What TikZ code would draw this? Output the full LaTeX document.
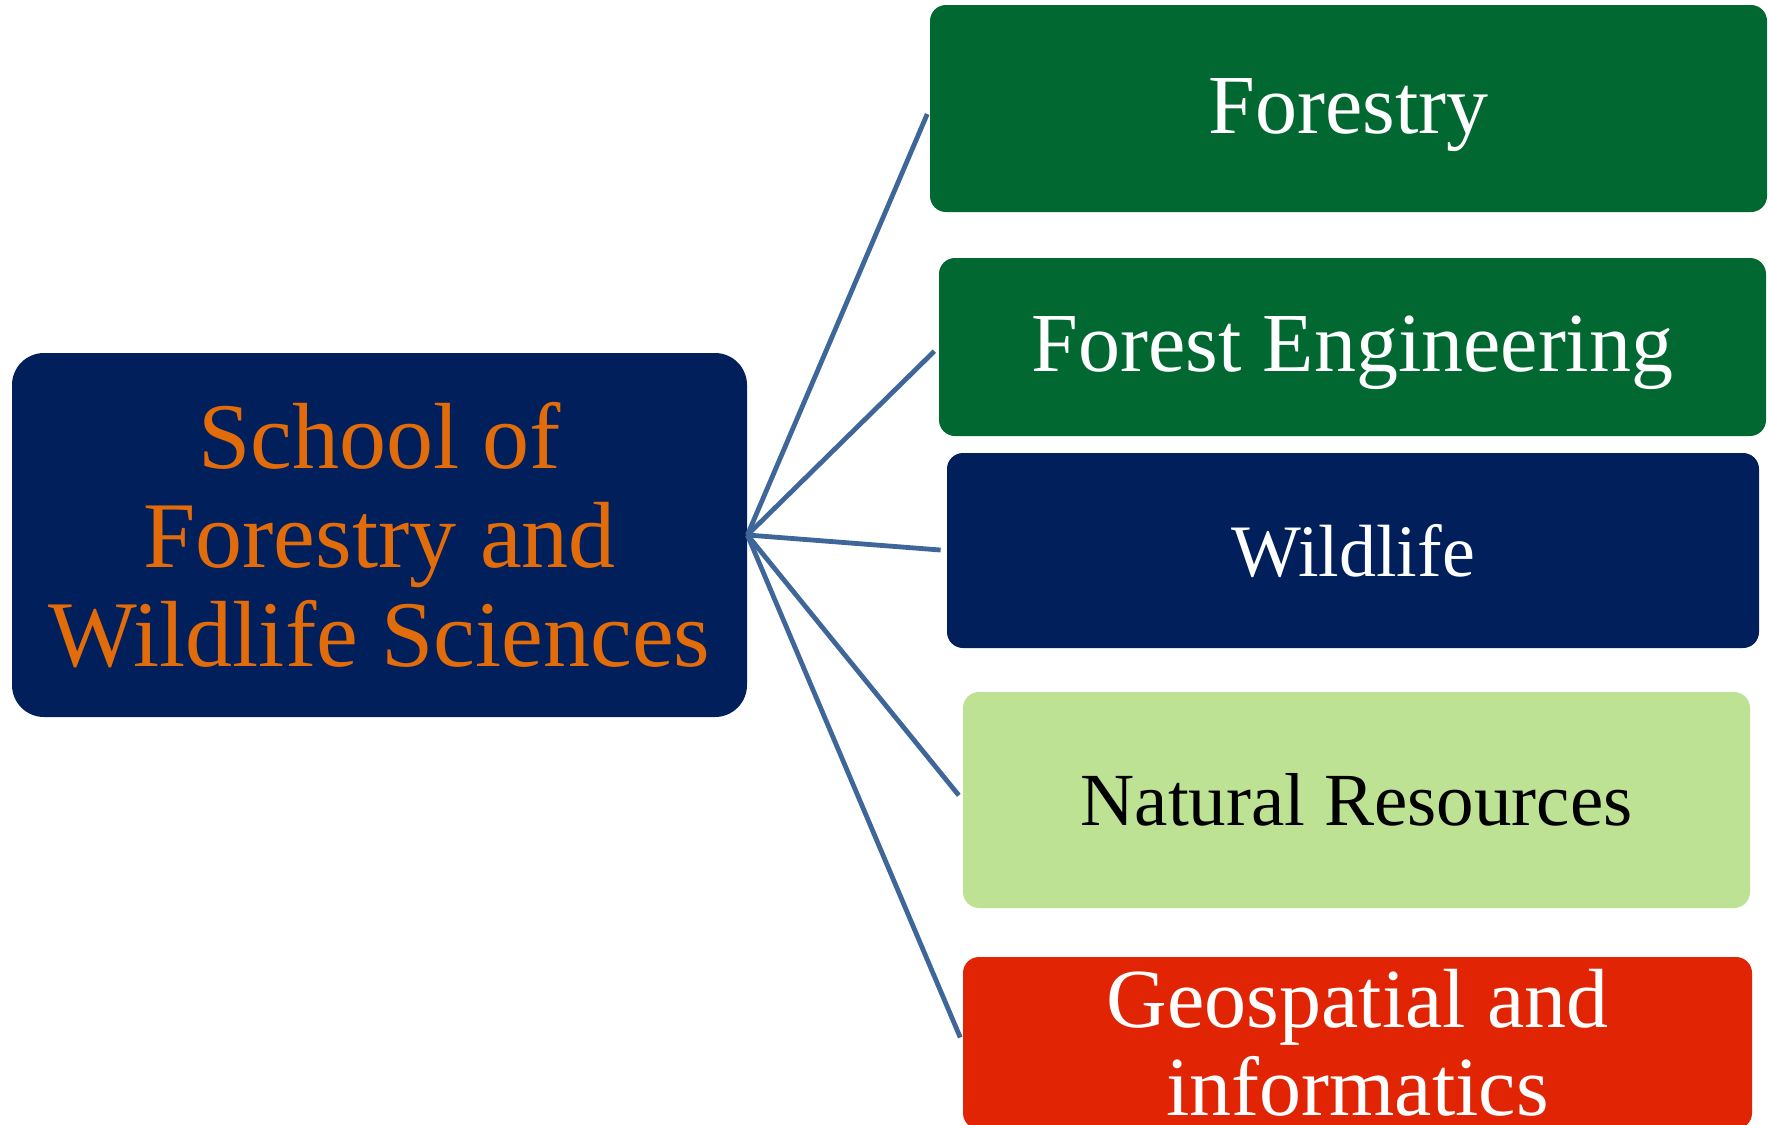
\documentclass[tikz,border=0pt]{standalone}
\usepackage{fontspec}
\setmainfont{Liberation Serif}
\usepackage{tikz}

\definecolor{schoolnavy}{HTML}{001F5B}
\definecolor{forestgreen}{HTML}{006830}
\definecolor{leafgreen}{HTML}{BDE293}
\definecolor{geored}{HTML}{E12404}
\definecolor{schoolorange}{HTML}{E36C0A}
\definecolor{linkblue}{HTML}{3E6699}

\begin{document}
\begin{tikzpicture}[
            x=0.5pt, y=-0.5pt,
            rootbox/.style={
                fill=schoolnavy, text=schoolorange,
                rounded corners=16pt, inner sep=0pt, align=center,
                font=\fontsize{47}{49.5}\selectfont
            },
            branch/.style={
                rounded corners=8pt, inner sep=0pt, align=center, text=white,
                font=\fontsize{42}{44}\selectfont
            },
            lowtext/.style={text height=34pt, text depth=9.2pt},
            link/.style={linkblue, line width=2.4pt, shorten >=3pt}
        ]

            \useasboundingbox (0,0) rectangle (1768,1125);

            % School (left)
            \node[rootbox, minimum width=367.5pt, minimum height=182pt] (school) at (379.5,535)
                {School of\\Forestry and\\Wildlife Sciences};

            % Departments (right column)
            \node[branch, lowtext, fill=forestgreen, minimum width=418.5pt, minimum height=103.5pt] (forestry) at (1348.5,108.5) {Forestry};
            \node[branch, lowtext, fill=forestgreen, minimum width=413.5pt, minimum height=89pt] (foreng) at (1352.5,347) {Forest Engineering};
            \node[branch, fill=schoolnavy, minimum width=406pt, minimum height=97.5pt,
                font=\fontsize{37}{40}\selectfont] (wildlife) at (1353,550.5) {Wildlife};
            \node[branch, fill=leafgreen, text=black, minimum width=393.5pt, minimum height=108pt,
                font=\fontsize{37.5}{40}\selectfont] (natres) at (1356.5,800) {Natural Resources};
            \node[branch, fill=geored, minimum width=394.5pt, minimum height=86pt] (geo) at (1357.5,1043)
                {Geospatial and\\informatics};

            % Links from the school to each department
            \foreach \dept in {forestry, foreng, wildlife, natres, geo}
                \draw[link] (school.east) -- (\dept.west);

        \end{tikzpicture}
\end{document}
